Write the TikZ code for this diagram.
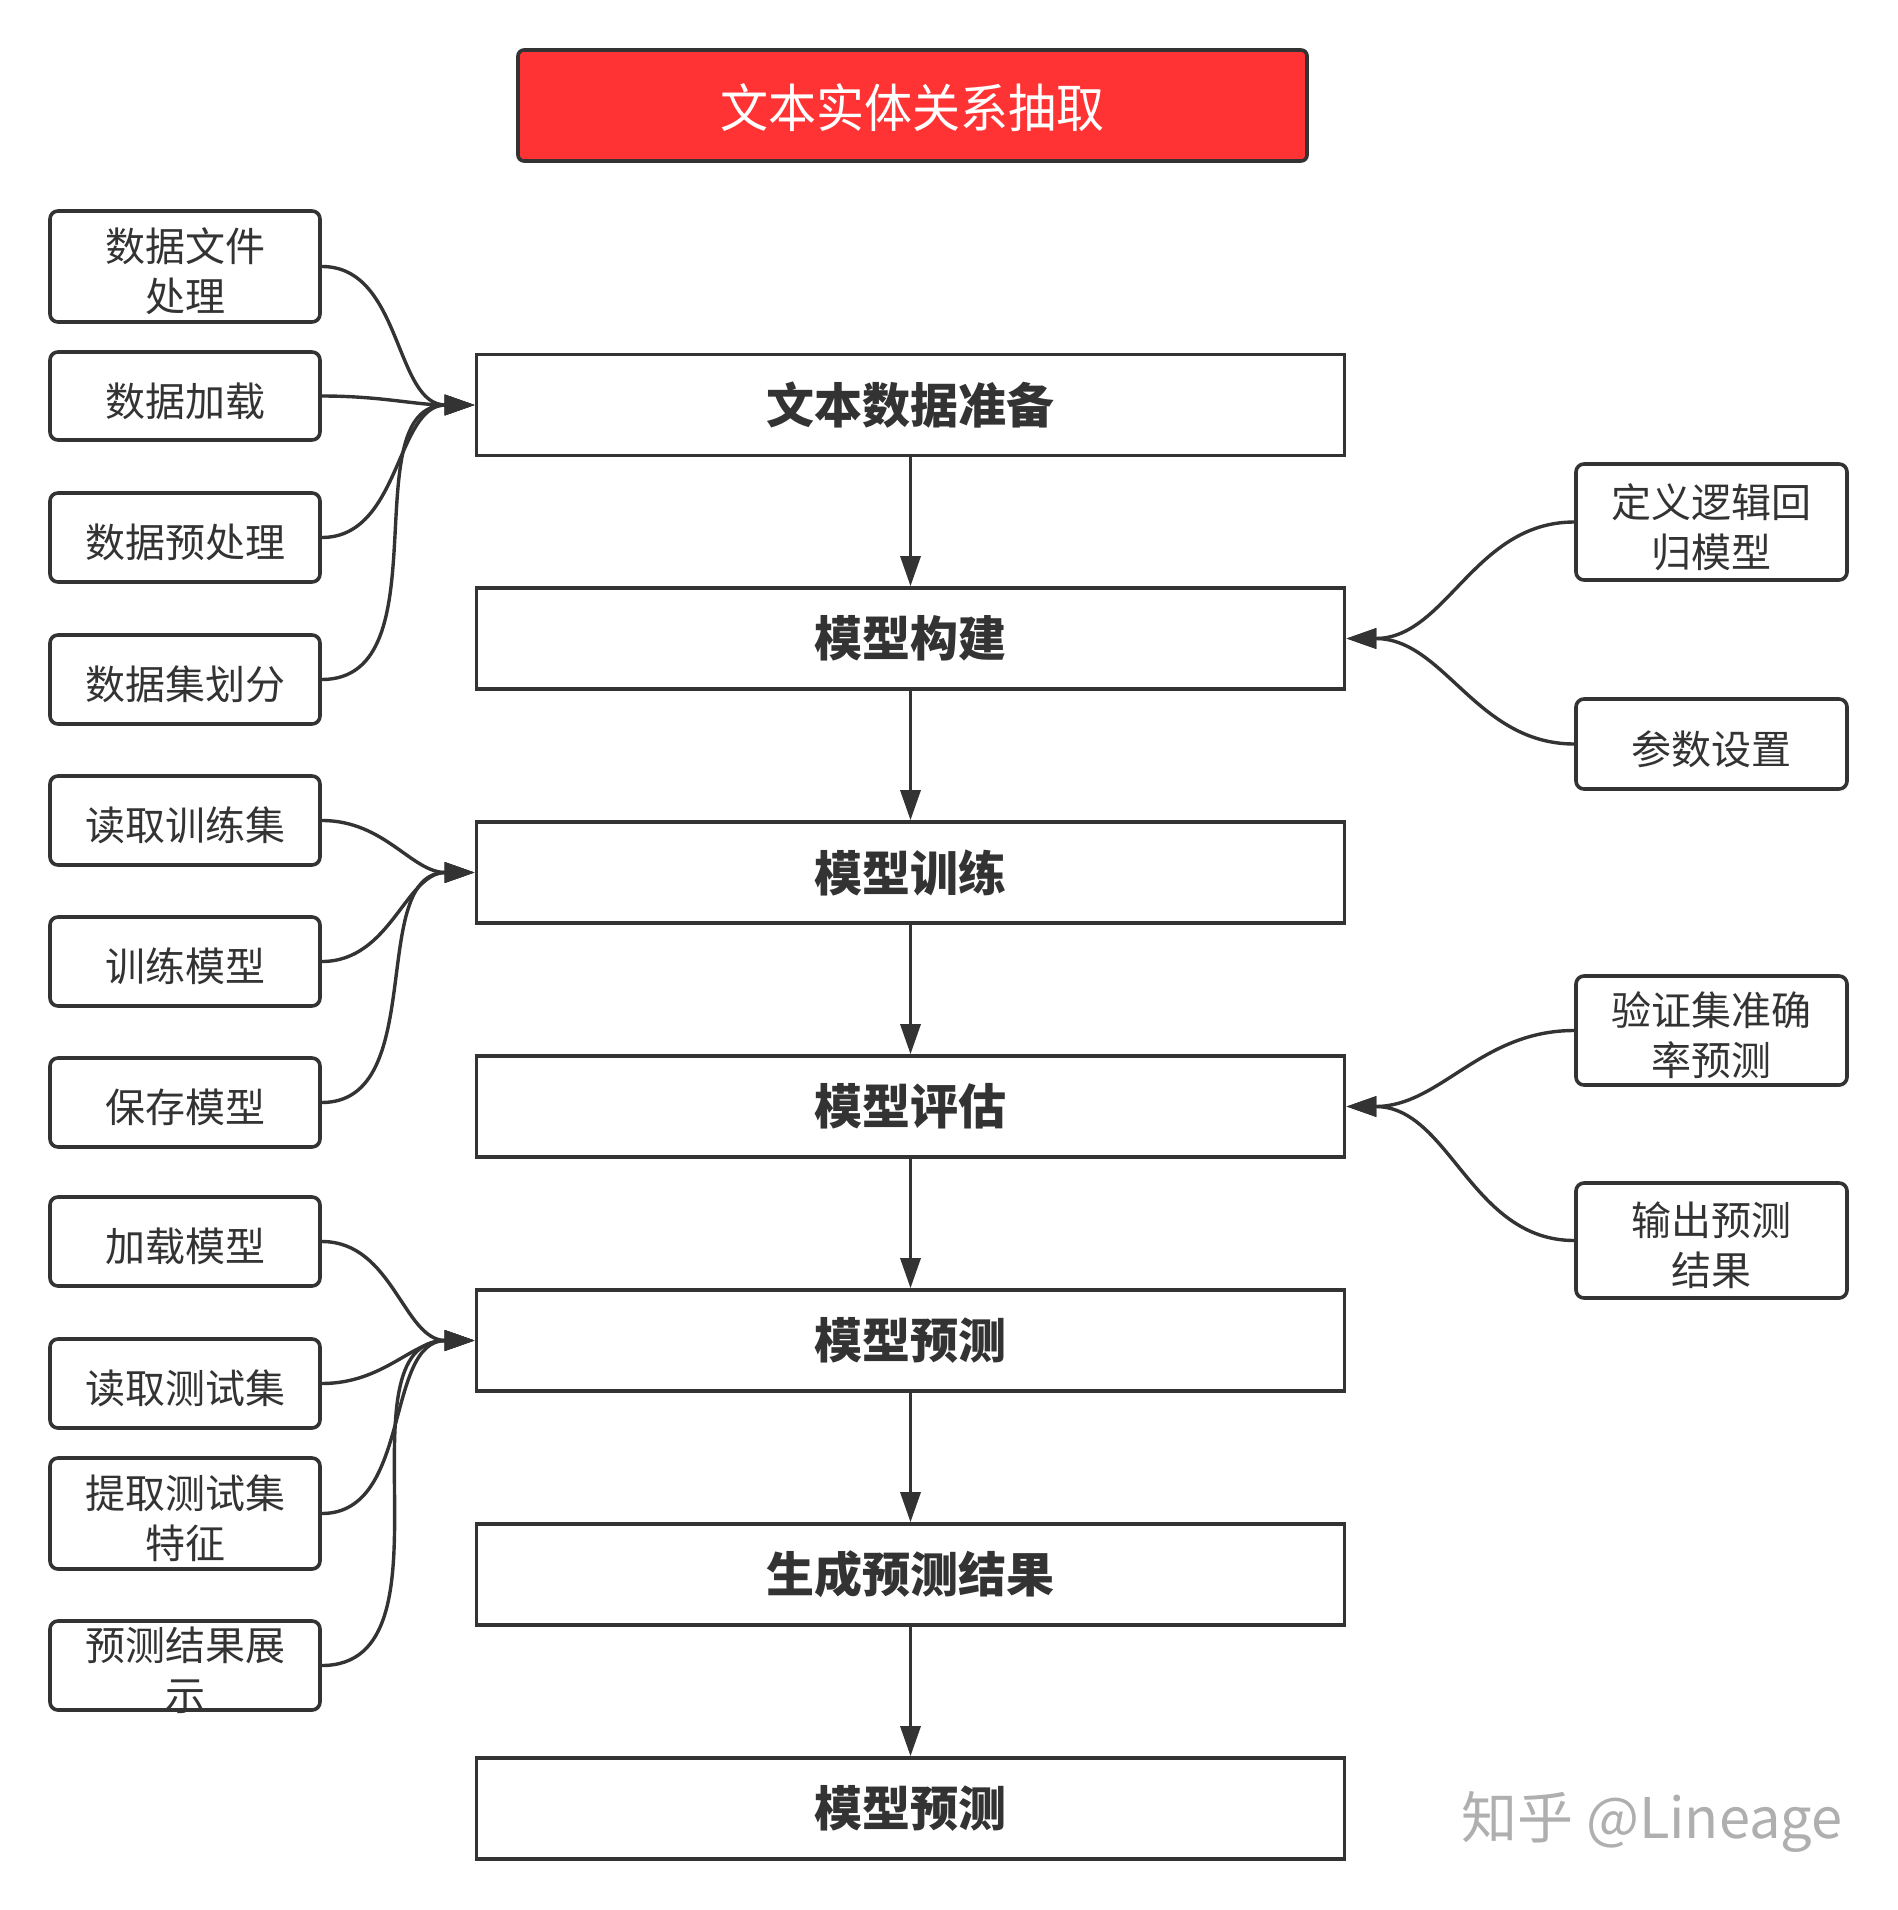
\documentclass[tikz,border=0pt]{standalone}
\usepackage{fontspec}
\setmainfont{Noto Sans CJK SC}
\usetikzlibrary{arrows.meta}
\definecolor{ink}{HTML}{333333}
\definecolor{titlered}{HTML}{FF3333}
\definecolor{wm}{HTML}{AFAFAF}
\begin{document}
\begin{tikzpicture}[x=0.5pt,y=-0.5pt,
  mainbox/.style={draw=ink,line width=1.8pt,fill=white,minimum width=434pt,minimum height=50.5pt,inner sep=0pt,text=ink,font=\bfseries\fontsize{24}{28}\selectfont},
  sidebox/.style={draw=ink,line width=1.8pt,fill=white,rounded corners=4pt,minimum width=135pt,inner sep=0pt},
  sidetext/.style={text=ink,align=center,inner sep=0pt,font=\fontsize{20}{25}\selectfont},
  flow/.style={draw=ink,line width=1.6pt,-{Triangle[length=15pt,width=10pt]}},
  curve/.style={draw=ink,line width=1.7pt,-{Triangle[length=15pt,width=10pt]}}
]
\useasboundingbox (0,0) rectangle (1898,1910);

% title
\node[draw=ink,line width=1.8pt,fill=titlered,rounded corners=3pt,minimum width=394.5pt,minimum height=55.5pt,inner sep=0pt] (title) at (912.5,105.5) {};
\node[text=white,inner sep=0pt,font=\fontsize{24}{28}\selectfont,yscale=1.08] (titlet) at ([yshift=-1pt]title.center) {文本实体关系抽取};

% main column
\node[mainbox] (m1) at (910.5,405) {文本数据准备};
\node[mainbox] (m2) at (910.5,638.5) {模型构建};
\node[mainbox] (m3) at (910.5,872.5) {模型训练};
\node[mainbox] (m4) at (910.5,1106.5) {模型评估};
\node[mainbox] (m5) at (910.5,1340.5) {模型预测};
\node[mainbox] (m6) at (910.5,1574.5) {生成预测结果};
\node[mainbox] (m7) at (910.5,1808.5) {模型预测};

\foreach \a/\b in {m1/m2,m2/m3,m3/m4,m4/m5,m5/m6,m6/m7}
  \draw[flow] (\a.south) -- (\b.north);

% left boxes
\node[sidebox,minimum height=55.5pt] (l1) at (185,266.5) {};
\node[sidebox,minimum height=44pt] (l2) at (185,396) {};
\node[sidebox,minimum height=44.5pt] (l3) at (185,537.5) {};
\node[sidebox,minimum height=44.5pt] (l4) at (185,679.5) {};
\node[sidebox,minimum height=44.5pt] (l5) at (185,820.5) {};
\node[sidebox,minimum height=44.5pt] (l6) at (185,961.5) {};
\node[sidebox,minimum height=44.5pt] (l7) at (185,1102.5) {};
\node[sidebox,minimum height=44.5pt] (l8) at (185,1241.5) {};
\node[sidebox,minimum height=44.5pt] (l9) at (185,1383.5) {};
\node[sidebox,minimum height=55.5pt] (l10) at (185,1513.5) {};
\node[sidebox,minimum height=44.5pt] (l11) at (185,1665.5) {};

\node[sidetext] (l1t) at ([yshift=-2.5pt]l1.center) {数据文件\\处理};
\node[sidetext] (l2t) at ([yshift=-2.5pt]l2.center) {数据加载};
\node[sidetext] (l3t) at ([yshift=-2.5pt]l3.center) {数据预处理};
\node[sidetext] (l4t) at ([yshift=-2.5pt]l4.center) {数据集划分};
\node[sidetext] (l5t) at ([yshift=-2.5pt]l5.center) {读取训练集};
\node[sidetext] (l6t) at ([yshift=-2.5pt]l6.center) {训练模型};
\node[sidetext] (l7t) at ([yshift=-2.5pt]l7.center) {保存模型};
\node[sidetext] (l8t) at ([yshift=-2.5pt]l8.center) {加载模型};
\node[sidetext] (l9t) at ([yshift=-2.5pt]l9.center) {读取测试集};
\node[sidetext] (l10t) at ([yshift=-2.5pt]l10.center) {提取测试集\\特征};
\node[sidetext] (l11t) at ([yshift=-2.5pt]l11.center) {预测结果展\\示};

% right boxes
\node[sidebox,minimum width=135.5pt,minimum height=58pt] (r1) at (1711.5,522) {};
\node[sidebox,minimum width=135.5pt,minimum height=45pt] (r2) at (1711.5,744) {};
\node[sidebox,minimum width=135.5pt,minimum height=54.5pt] (r3) at (1711.5,1030.5) {};
\node[sidebox,minimum width=135.5pt,minimum height=57.5pt] (r4) at (1711.5,1240.5) {};

\node[sidetext] (r1t) at ([yshift=-2.5pt]r1.center) {定义逻辑回\\归模型};
\node[sidetext] (r2t) at ([yshift=-2.5pt]r2.center) {参数设置};
\node[sidetext] (r3t) at ([yshift=-2.5pt]r3.center) {验证集准确\\率预测};
\node[sidetext] (r4t) at ([yshift=-2.5pt]r4.center) {输出预测\\结果};

% curved connectors
\foreach \s in {l1,l2,l3,l4}
  \draw[curve] (\s.east) to[out=0,in=180] (m1.west);
\foreach \s in {l5,l6,l7}
  \draw[curve] (\s.east) to[out=0,in=180] (m3.west);
\foreach \s in {l8,l9,l10,l11}
  \draw[curve] (\s.east) to[out=0,in=180] (m5.west);
\foreach \s in {r1,r2}
  \draw[curve] (\s.west) to[out=180,in=0] (m2.east);
\foreach \s in {r3,r4}
  \draw[curve] (\s.west) to[out=180,in=0] (m4.east);

% watermark
\node[text=wm,inner sep=0pt,font=\fontsize{28}{32}\selectfont] (wmk) at (1652,1822) {知乎 @Lineage};
\end{tikzpicture}
\end{document}
